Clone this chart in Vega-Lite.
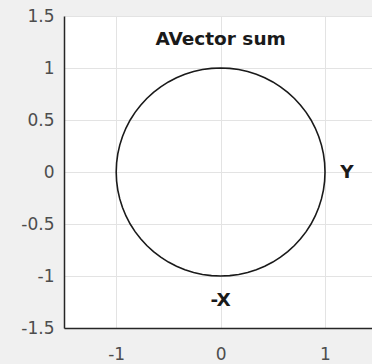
{
  "$schema": "https://vega.github.io/schema/vega-lite/v6.json",
  "width": 308,
  "height": 312,
  "autosize": {"type": "none"},
  "padding": {"left": 64, "top": 16, "right": 0, "bottom": 36},
  "background": "#f0f0f0",
  "view": {"fill": "white", "stroke": null},
  "config": {
    "font": "DejaVu Sans",
    "axis": {
      "labelFont": "DejaVu Sans",
      "labelFontSize": 17,
      "labelColor": "#4d4d4d",
      "labelExpr": "datum.value + ''",
      "domainColor": "#262626",
      "domainWidth": 1.5,
      "gridColor": "#e3e3e3",
      "gridWidth": 1,
      "ticks": false,
      "title": null
    }
  },
  "datasets": {
    "circle": [
      {"i": 0, "x": 1, "y": 0},
      {"i": 1, "x": 0.9962, "y": 0.0872},
      {"i": 2, "x": 0.9848, "y": 0.1736},
      {"i": 3, "x": 0.9659, "y": 0.2588},
      {"i": 4, "x": 0.9397, "y": 0.342},
      {"i": 5, "x": 0.9063, "y": 0.4226},
      {"i": 6, "x": 0.866, "y": 0.5},
      {"i": 7, "x": 0.8192, "y": 0.5736},
      {"i": 8, "x": 0.766, "y": 0.6428},
      {"i": 9, "x": 0.7071, "y": 0.7071},
      {"i": 10, "x": 0.6428, "y": 0.766},
      {"i": 11, "x": 0.5736, "y": 0.8192},
      {"i": 12, "x": 0.5, "y": 0.866},
      {"i": 13, "x": 0.4226, "y": 0.9063},
      {"i": 14, "x": 0.342, "y": 0.9397},
      {"i": 15, "x": 0.2588, "y": 0.9659},
      {"i": 16, "x": 0.1736, "y": 0.9848},
      {"i": 17, "x": 0.0872, "y": 0.9962},
      {"i": 18, "x": 0, "y": 1},
      {"i": 19, "x": -0.0872, "y": 0.9962},
      {"i": 20, "x": -0.1736, "y": 0.9848},
      {"i": 21, "x": -0.2588, "y": 0.9659},
      {"i": 22, "x": -0.342, "y": 0.9397},
      {"i": 23, "x": -0.4226, "y": 0.9063},
      {"i": 24, "x": -0.5, "y": 0.866},
      {"i": 25, "x": -0.5736, "y": 0.8192},
      {"i": 26, "x": -0.6428, "y": 0.766},
      {"i": 27, "x": -0.7071, "y": 0.7071},
      {"i": 28, "x": -0.766, "y": 0.6428},
      {"i": 29, "x": -0.8192, "y": 0.5736},
      {"i": 30, "x": -0.866, "y": 0.5},
      {"i": 31, "x": -0.9063, "y": 0.4226},
      {"i": 32, "x": -0.9397, "y": 0.342},
      {"i": 33, "x": -0.9659, "y": 0.2588},
      {"i": 34, "x": -0.9848, "y": 0.1736},
      {"i": 35, "x": -0.9962, "y": 0.0872},
      {"i": 36, "x": -1, "y": 0},
      {"i": 37, "x": -0.9962, "y": -0.0872},
      {"i": 38, "x": -0.9848, "y": -0.1736},
      {"i": 39, "x": -0.9659, "y": -0.2588},
      {"i": 40, "x": -0.9397, "y": -0.342},
      {"i": 41, "x": -0.9063, "y": -0.4226},
      {"i": 42, "x": -0.866, "y": -0.5},
      {"i": 43, "x": -0.8192, "y": -0.5736},
      {"i": 44, "x": -0.766, "y": -0.6428},
      {"i": 45, "x": -0.7071, "y": -0.7071},
      {"i": 46, "x": -0.6428, "y": -0.766},
      {"i": 47, "x": -0.5736, "y": -0.8192},
      {"i": 48, "x": -0.5, "y": -0.866},
      {"i": 49, "x": -0.4226, "y": -0.9063},
      {"i": 50, "x": -0.342, "y": -0.9397},
      {"i": 51, "x": -0.2588, "y": -0.9659},
      {"i": 52, "x": -0.1736, "y": -0.9848},
      {"i": 53, "x": -0.0872, "y": -0.9962},
      {"i": 54, "x": 0, "y": -1},
      {"i": 55, "x": 0.0872, "y": -0.9962},
      {"i": 56, "x": 0.1736, "y": -0.9848},
      {"i": 57, "x": 0.2588, "y": -0.9659},
      {"i": 58, "x": 0.342, "y": -0.9397},
      {"i": 59, "x": 0.4226, "y": -0.9063},
      {"i": 60, "x": 0.5, "y": -0.866},
      {"i": 61, "x": 0.5736, "y": -0.8192},
      {"i": 62, "x": 0.6428, "y": -0.766},
      {"i": 63, "x": 0.7071, "y": -0.7071},
      {"i": 64, "x": 0.766, "y": -0.6428},
      {"i": 65, "x": 0.8192, "y": -0.5736},
      {"i": 66, "x": 0.866, "y": -0.5},
      {"i": 67, "x": 0.9063, "y": -0.4226},
      {"i": 68, "x": 0.9397, "y": -0.342},
      {"i": 69, "x": 0.9659, "y": -0.2588},
      {"i": 70, "x": 0.9848, "y": -0.1736},
      {"i": 71, "x": 0.9962, "y": -0.0872},
      {"i": 72, "x": 1, "y": 0}
    ],
    "labels": [
      {"label": "AVector sum", "x": 0, "y": 1.28},
      {"label": "Y", "x": 1.21, "y": 0},
      {"label": "-X", "x": 0, "y": -1.23}
    ]
  },
  "layer": [
    {
      "data": {"name": "circle"},
      "mark": {"type": "line", "color": "#1a1a1a", "strokeWidth": 1.6, "clip": true},
      "encoding": {
        "x": {
          "field": "x",
          "type": "quantitative",
          "scale": {"domain": [-1.5, 1.45], "nice": false, "zero": false},
          "axis": {"values": [-1, 0, 1], "labelPadding": 18, "labelBaseline": "top"}
        },
        "y": {
          "field": "y",
          "type": "quantitative",
          "scale": {"domain": [-1.5, 1.5], "nice": false, "zero": false},
          "axis": {"values": [-1.5, -1, -0.5, 0, 0.5, 1, 1.5], "labelPadding": 10}
        },
        "order": {"field": "i", "type": "quantitative"}
      }
    },
    {
      "data": {"name": "labels"},
      "mark": {
        "type": "text",
        "font": "DejaVu Sans",
        "fontWeight": "bold",
        "fontSize": 18.5,
        "color": "#1a1a1a",
        "align": "center",
        "baseline": "middle"
      },
      "encoding": {
        "x": {"field": "x", "type": "quantitative"},
        "y": {"field": "y", "type": "quantitative"},
        "text": {"field": "label"}
      }
    }
  ]
}
